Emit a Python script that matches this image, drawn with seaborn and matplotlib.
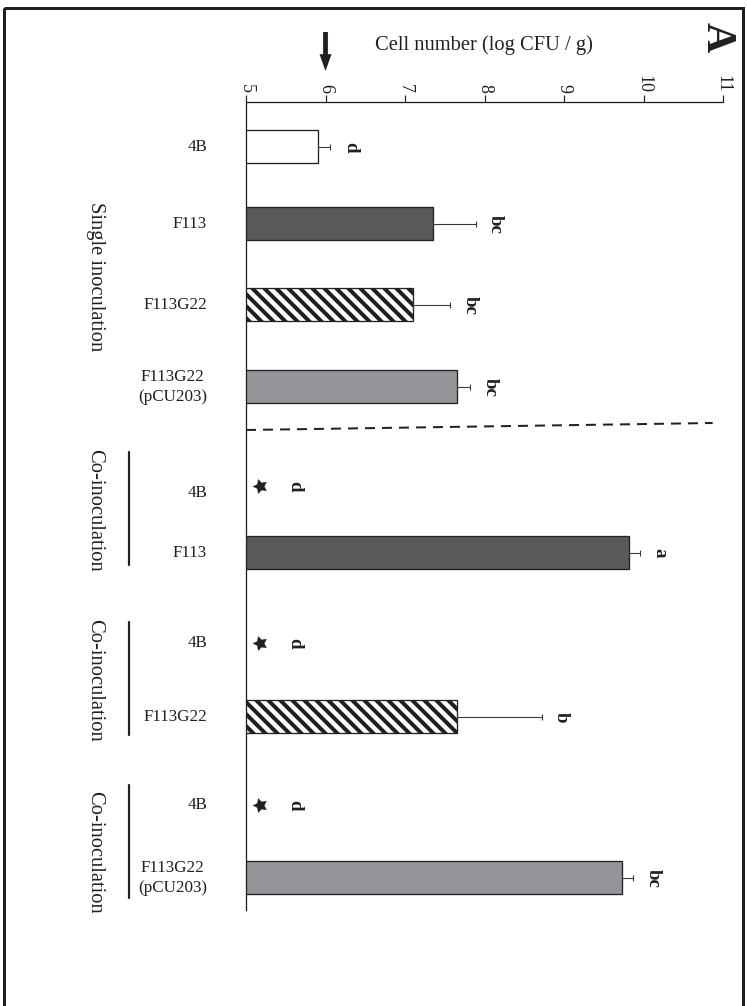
import numpy as np
import pandas as pd
import matplotlib
matplotlib.use("Agg")
import matplotlib.pyplot as plt
import seaborn as sns
from matplotlib.patches import Rectangle

# ---------------- data ----------------
strains = ["4B", "F113", "F113G22", "F113G22\n(pCU203)",
           "4B", "F113", "4B", "F113G22", "4B", "F113G22\n(pCU203)"]
kind = ["4B", "F113", "F113G22", "pCU203",
        "4B", "F113", "4B", "F113G22", "4B", "pCU203"]
log_cfu = [5.91, 7.35, 7.10, 7.65, np.nan, 9.82, np.nan, 7.66, np.nan, 9.73]
err = [0.15, 0.54, 0.47, 0.17, np.nan, 0.14, np.nan, 1.06, np.nan, 0.14]
letters = ["d", "bc", "bc", "bc", "d", "a", "d", "b", "d", "bc"]
groups = ["Single inoculation", "Co-inoculation", "Co-inoculation", "Co-inoculation"]
x_ticks = [5, 6, 7, 8, 9, 10, 11]
detection_limit = 6
not_detected_x = 5.18

# ---------------- layout (pixels from top of figure) ----------------
W, H = 747, 1006
row_y = [147, 224, 305, 387, 486, 553, 643, 717, 805, 878]
group_y = [277, 510, 680, 852]
group_lines = [(452, 565), (622, 735), (785, 898)]
bar_px = 33

fill = {"4B": "white", "F113": "#58595b", "F113G22": "white", "pCU203": "#939598"}
hatch = {"4B": "", "F113": "", "F113G22": "\\\\", "pCU203": ""}
INK = "#231f20"

sns.set_style("white")
plt.rcParams["font.family"] = ["Liberation Serif", "DejaVu Serif"]
plt.rcParams["hatch.linewidth"] = 4.0
plt.rcParams["figure.dpi"] = 72

fig = plt.figure(figsize=(W / 72, H / 72), dpi=72)
ax = fig.add_axes([246 / W, 1 - 910 / H, (723 - 246) / W, (910 - 102) / H])
ax.patch.set_alpha(0)

df = pd.DataFrame({"y": row_y, "value": log_cfu, "err": err, "kind": kind,
                   "letter": letters})
bars = df.dropna(subset=["value"]).sort_values("y")
width = bar_px / np.min(np.diff(bars["y"].values))

sns.barplot(data=bars, x="value", y="y", orient="y", native_scale=True,
            width=width, color="white", edgecolor=INK, linewidth=1.3,
            errorbar=None, ax=ax)
for p, k in zip(ax.patches, bars["kind"]):
    p.set_facecolor(fill[k])
    p.set_hatch(hatch[k])
    p.set_edgecolor(INK)

ax.errorbar(bars["value"], bars["y"],
            xerr=[np.zeros(len(bars)), bars["err"]],
            fmt="none", ecolor="#3a3a3a", elinewidth=1.1, capsize=3, capthick=1.1,
            clip_on=False)

nd = df[df["value"].isna()]
sns.scatterplot(x=[not_detected_x] * len(nd), y=nd["y"].values, marker=(5, 1, 90),
                s=210, color=INK, edgecolor=INK, linewidth=0.5, ax=ax,
                legend=False, clip_on=False)

for _, r in df.iterrows():
    if np.isnan(r["value"]):
        xe, off = not_detected_x, 34
    else:
        xe, off = r["value"] + r["err"], 20
    ax.annotate(r["letter"], xy=(xe, r["y"]), xytext=(off, 0),
                textcoords="offset points", ha="center", va="center",
                rotation=-90, fontsize=19, fontweight="bold", color=INK,
                annotation_clip=False)

# separator
ax.plot([5, 10.87], [430, 423], color=INK, lw=2, dashes=(5, 3.5), clip_on=False)

# detection-limit arrow
ax.annotate("", xy=(detection_limit, 71), xytext=(detection_limit, 32),
            annotation_clip=False,
            arrowprops=dict(arrowstyle="simple,head_length=0.7,head_width=0.5,tail_width=0.2",
                            mutation_scale=24, fc=INK, ec=INK, lw=0,
                            shrinkA=0, shrinkB=0))

ax.set_xlim(5, 11)
ax.set_ylim(910, 102)
ax.xaxis.tick_top()
ax.set_xticks(x_ticks)
ax.set_xticklabels([str(t) for t in x_ticks])
ax.tick_params(axis="x", direction="out", length=7, width=1.2, pad=2,
               labelsize=18, labelrotation=-90, colors=INK)
ax.set_yticks([])
ax.set_xlabel("")
ax.set_ylabel("")
for s in ["bottom", "right"]:
    ax.spines[s].set_visible(False)
for s in ["top", "left"]:
    ax.spines[s].set_color(INK)
    ax.spines[s].set_linewidth(1.3)

# overlay for texts in figure pixels
ov = fig.add_axes([0, 0, 1, 1])
ov.set_xlim(0, W)
ov.set_ylim(H, 0)
ov.axis("off")

for lab, y in zip(strains, row_y):
    yy = 493 if y == 486 else y
    ov.text(207, yy, lab, ha="right", va="center", multialignment="center",
            fontsize=17, color=INK, linespacing=1.3)
for g, y in zip(groups, group_y):
    ov.text(95, y, g, rotation=-90, ha="center", va="center", fontsize=20.5, color=INK)
for y0, y1 in group_lines:
    ov.plot([129, 129], [y0, y1], color=INK, lw=2.2)

ov.text(484, 45, "Cell number (log CFU / g)", ha="center", va="center",
        fontsize=20.5, color=INK)
ov.text(717, 37, "A", rotation=-90, ha="center", va="center", fontsize=42,
        fontweight="bold", color=INK)
ov.add_patch(Rectangle((4, 8), 739, 1010, fill=False, lw=3, ec=INK, clip_on=False))

fig.savefig("out.png", dpi=72)
